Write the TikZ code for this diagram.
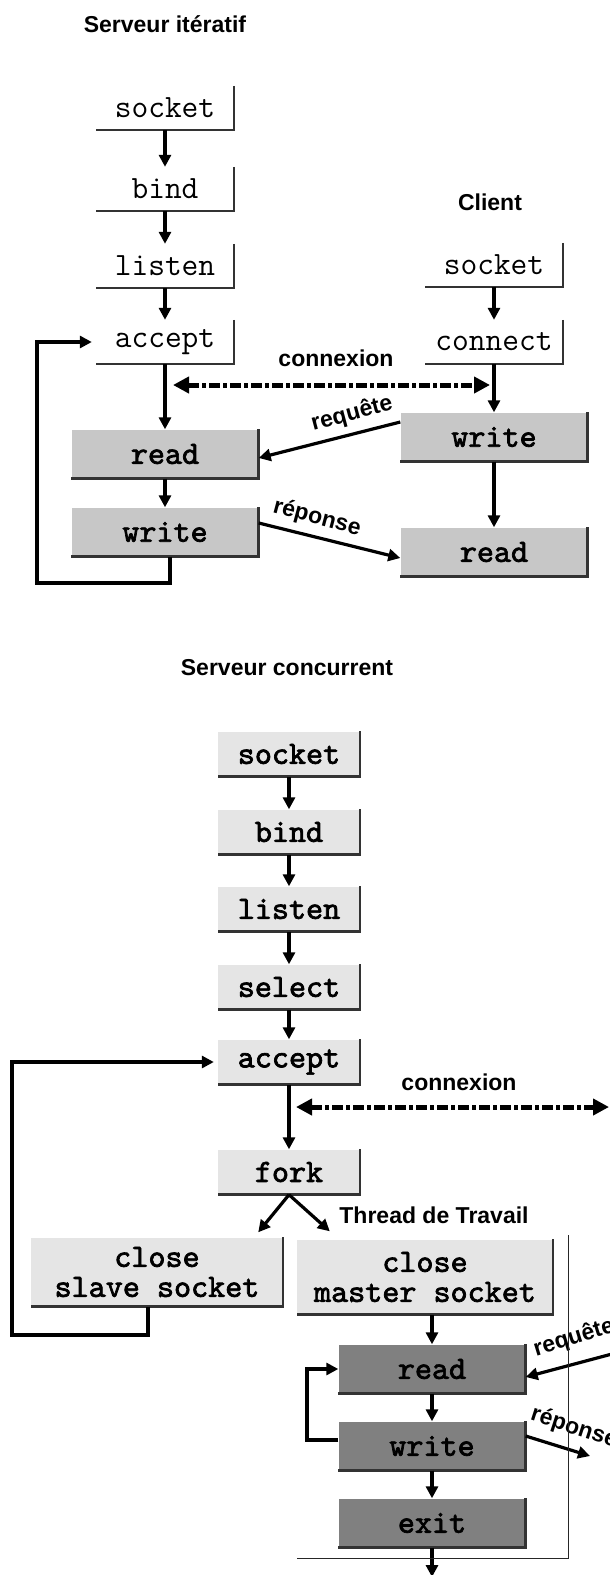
\documentclass[tikz,border=0pt]{standalone}
\usepackage{fontspec}
\usetikzlibrary{arrows.meta,calc}
\newfontfamily\csans{Liberation Sans}
\newfontfamily\cmonob[FakeBold=2.2]{lmmono10-regular.otf}
\begin{document}
\begin{tikzpicture}[x=1pt,y=-1pt,
  base/.style={inner sep=0pt, align=center, font=\ttfamily\fontsize{32.5}{30}\selectfont},
  boldbase/.style={base, font=\cmonob\fontsize{32.5}{30}\selectfont},
  wbox/.style={base, fill=white, minimum width=138pt, minimum height=44pt},
  gbox/.style={boldbase, fill=black!22, minimum width=187pt, minimum height=49pt},
  lbox/.style={boldbase, fill=black!10, minimum width=142pt, minimum height=45pt},
  dbox/.style={boldbase, fill=black!50, minimum width=187pt, minimum height=49pt},
  lab/.style={inner sep=0pt, font=\csans\bfseries\fontsize{23}{25}\selectfont},
  arr/.style={line width=3.2pt, -{Triangle[length=12pt,width=12pt]}},
  dashline/.style={line width=5pt, dash pattern=on 11pt off 3pt on 4pt off 3pt,
     {Triangle[length=16pt,width=16pt]}-{Triangle[length=16pt,width=16pt]}},
  shad/.style={line width=2.5pt, black!80},
  frameline/.style={line width=1pt, black!85}
]
\useasboundingbox (0,0) rectangle (610,1575);

% ---------- Serveur iteratif ----------
\node[lab] (t1) at (165,24) {Serveur itératif};
\node[wbox] (s1) at (165,108) {socket};
\node[wbox] (b1) at (165,189) {bind};
\node[wbox] (l1) at (165,266) {listen};
\node[wbox] (a1) at (165,342) {accept};
\node[gbox] (r1) at (165,454) {read};
\node[gbox] (w1) at (165,532) {write};

% ---------- Client ----------
\node[lab] (tc) at (490,202) {Client};
\node[wbox] (cs) at (494,265) {socket};
\node[wbox] (cc) at (494,342) {connect};
\node[gbox] (cw) at (494,437) {write};
\node[gbox] (cr) at (494,552) {read};

% ---------- Serveur concurrent ----------
\node[lab] (t2) at (287,668) {Serveur concurrent};
\node[lbox] (s2) at (289,754) {socket};
\node[lbox] (b2) at (289,832) {bind};
\node[lbox] (l2) at (289,909) {listen};
\node[lbox] (se) at (289,987) {select};
\node[lbox] (a2) at (289,1062) {accept};
\node[lbox] (f) at (289,1172) {fork};
\node[lbox, minimum width=252pt, minimum height=69pt] (cs2) at (157,1272) {close\\slave socket};
\node[lbox, minimum width=256pt, minimum height=75pt] (cm) at (425,1277) {close\\master socket};
\node[dbox] (wr) at (432,1369) {read};
\node[dbox] (ww) at (432,1446) {write};
\node[dbox] (ex) at (432,1523) {exit};
\node[lab] (tt) at (434,1215) {Thread de Travail};

% shadows
\foreach \n in {s1,b1,l1,a1,cs,cc,r1,w1,cw,cr,s2,b2,l2,se,a2,f,cs2,cm,wr,ww,ex}
  \draw[shad] (\n.north east) -- (\n.south east) -- (\n.south west);

% ---------- top connectors ----------
\draw[arr] (s1) -- (b1);
\draw[arr] (b1) -- (l1);
\draw[arr] (l1) -- (a1);
\draw[arr] (a1) -- (r1);
\draw[arr] (r1) -- (w1);
\draw[arr] (cs) -- (cc);
\draw[arr] (cc) -- (cw);
\draw[arr] (cw) -- (cr);
\coordinate (lp1) at (37,583);
\draw[arr] ([xshift=5pt]w1.south) |- (lp1) |- ([xshift=-4pt]a1.west);
\coordinate (dl1) at (173,385);
\coordinate (dr1) at (490,385);
\draw[dashline] (dl1) -- (dr1);
\node[lab] (cx1) at (336,358) {connexion};
\draw[arr] ([yshift=15pt]cw.west) -- ([yshift=-4pt]r1.east);
\node[lab, rotate=15] (rq1) at (352,414) {requête};
\draw[arr] ([yshift=9pt]w1.east) -- ([yshift=-6pt]cr.west);
\node[lab, rotate=-15] (rp1) at (317,518) {réponse};

% ---------- bottom connectors ----------
\draw[arr] (s2) -- (b2);
\draw[arr] (b2) -- (l2);
\draw[arr] (l2) -- (se);
\draw[arr] (se) -- (a2);
\draw[arr] (a2) -- (f);
\draw[arr] (f.south) -- ([xshift=-25pt,yshift=5pt]cs2.north east);
\draw[arr] (f.south) -- ([xshift=33pt,yshift=8pt]cm.north west);
\coordinate (lp2) at (12,1335);
\draw[arr] ([xshift=-9pt]cs2.south) |- (lp2) |- ([xshift=-4pt]a2.west);
\coordinate (dl2) at (296,1107);
\coordinate (dr2) at (609,1107);
\draw[dashline] (dl2) -- (dr2);
\node[lab] (cx2) at (459,1082) {connexion};
\draw[arr] (wr.north |- cm.south) -- (wr.north);
\draw[arr] (wr) -- (ww);
\draw[arr] (ww) -- (ex);
\coordinate (exend) at (432,1577);
\draw[arr] (ex) -- (exend);
\coordinate (lp3) at (307,1440);
\draw[arr] ([yshift=6pt]ww.west) -- (lp3) |- (wr.west);
\coordinate (rq2s) at (612,1354);
\draw[arr] (rq2s) -- ([yshift=-8pt]wr.east);
\node[lab, rotate=17] (rq2) at (574,1338) {requête};
\coordinate (rp2e) at (590,1456);
\draw[arr] ([yshift=10pt]ww.east) -- (rp2e);
\node[lab, rotate=-18] (rp2) at (574,1428) {réponse};
\coordinate (fr1) at (297,1558);
\coordinate (fr2) at (568,1558);
\coordinate (fr3) at (568,1235);
\draw[frameline] (fr1) -- (fr2) -- (fr3);
\end{tikzpicture}
\end{document}
